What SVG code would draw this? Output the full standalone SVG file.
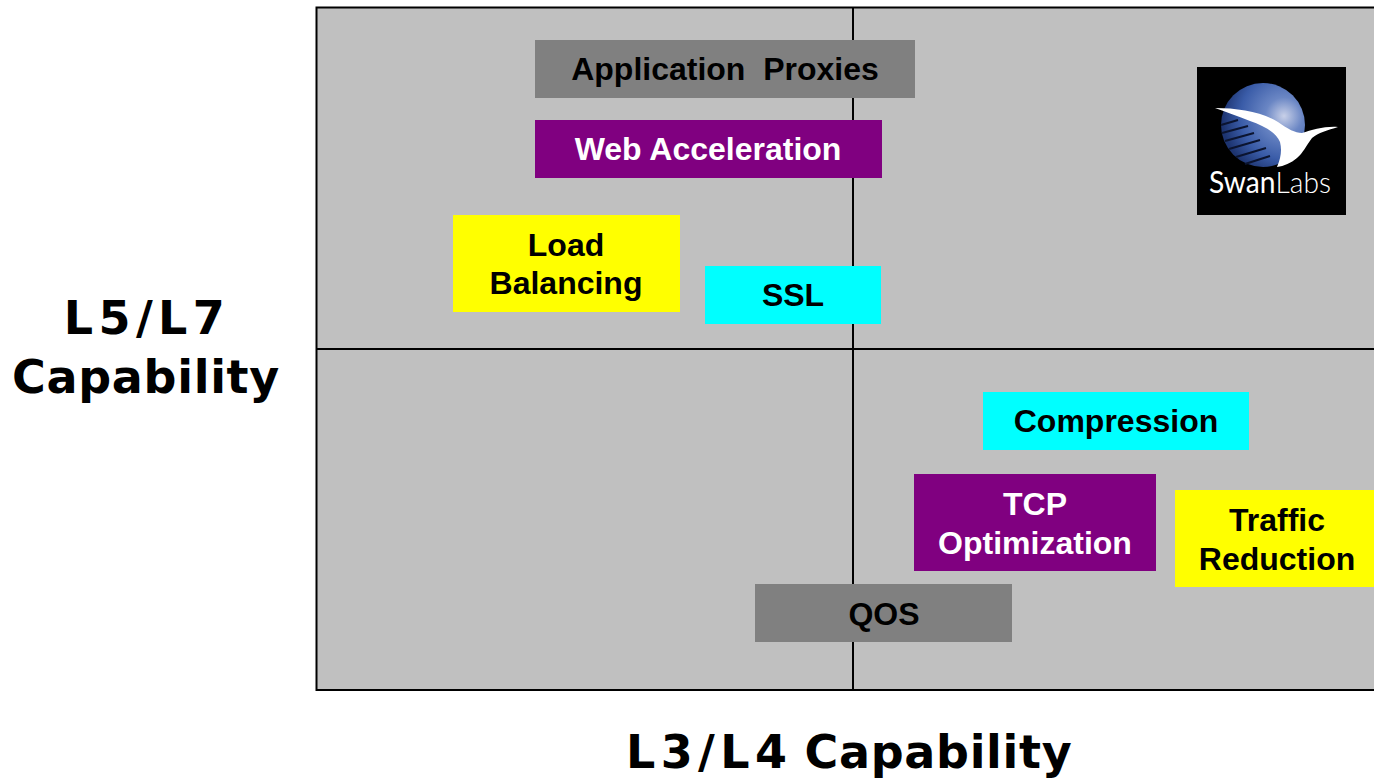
<svg xmlns="http://www.w3.org/2000/svg" width="1374" height="778" viewBox="0 0 1374 778">
<style>
text{font-family:"Liberation Sans",Arial,sans-serif;font-weight:bold;font-size:32px;text-anchor:middle;fill:#000}
.w{fill:#fff}
.ax{font-family:"DejaVu Sans",Verdana,sans-serif;font-size:46px}
.l{stroke:#000;stroke-width:2;fill:none}
.s{stroke:#0b1430;stroke-width:2;fill:none}
</style>
<defs><radialGradient id="g" gradientUnits="userSpaceOnUse" cx="1284" cy="116" r="62"><stop offset="0" stop-color="#c8d0e8"/><stop offset=".3" stop-color="#6a86c4"/><stop offset=".7" stop-color="#3a5ca8"/><stop offset="1" stop-color="#1d3470"/></radialGradient></defs>
<rect width="1374" height="778" fill="#fff"/>
<rect x="316.500" y="7.500" width="1060" height="682.500" fill="#c0c0c0" stroke="#000" stroke-width="2"/>
<g id="connectors">
<path class="l" d="M853 8V690"/>
<path class="l" d="M317 349H1374"/>
</g>
<g id="app"><rect x="535" y="40" width="380" height="58" fill="#808080"/><text x="725" y="80" xml:space="preserve">Application  Proxies</text></g>
<g id="web"><rect x="535" y="120" width="347" height="58" fill="#800080"/><text class="w" x="708" y="160">Web Acceleration</text></g>
<g id="lb"><rect x="453" y="215" width="227" height="97" fill="#ff0"/><text x="566" y="256">Load</text><text x="566" y="294">Balancing</text></g>
<g id="ssl"><rect x="705" y="266" width="176" height="58" fill="#0ff"/><text x="793" y="306">SSL</text></g>
<g id="comp"><rect x="983" y="392" width="266" height="58" fill="#0ff"/><text x="1116" y="432">Compression</text></g>
<g id="tcp"><rect x="914" y="474" width="242" height="97" fill="#800080"/><text class="w" x="1035" y="515">TCP</text><text class="w" x="1035" y="554">Optimization</text></g>
<g id="tr"><rect x="1175" y="490" width="199" height="97" fill="#ff0"/><text x="1277" y="531">Traffic</text><text x="1277" y="570">Reduction</text></g>
<g id="qos"><rect x="755" y="584" width="257" height="58" fill="#808080"/><text x="884" y="625">QOS</text></g>
<g id="logo">
<rect x="1197" y="67" width="149" height="148" fill="#000"/>
<circle cx="1263" cy="125" r="42" fill="url(#g)"/>
<path class="s" d="M1221 125L1238 120M1222 133L1248 126M1225 141L1254 133M1229 149L1260 140M1236 157L1266 148M1245 164L1270 156"/>
<path d="M1215 108C1238 108 1262 112 1278 122C1288 129 1295 133 1302 133C1312 130 1325 126 1338 127C1328 130 1318 133 1312 138C1306 146 1303 153 1297 158C1291 163 1284 166 1277 167C1281 158 1282 150 1280 142C1276 132 1264 126 1250 121C1238 116 1226 112 1215 108Z" fill="#fff"/>
<text x="1209" y="193" style="text-anchor:start;font-family:Lato,sans-serif;font-weight:400;font-size:30px;fill:#fff" textLength="122" lengthAdjust="spacingAndGlyphs">Swan<tspan style="font-weight:300">Labs</tspan></text>
</g>
<g id="labels">
<text class="ax" x="147" y="334" style="letter-spacing:5.400px">L5/L7</text>
<text class="ax" x="146" y="393" style="letter-spacing:.7px">Capability</text>
<text class="ax" x="626" y="768" style="text-anchor:start"><tspan style="letter-spacing:5.400px">L3/L4</tspan><tspan style="letter-spacing:0"> </tspan><tspan dx="-4" style="letter-spacing:.7px">Capability</tspan></text>
</g>
</svg>
